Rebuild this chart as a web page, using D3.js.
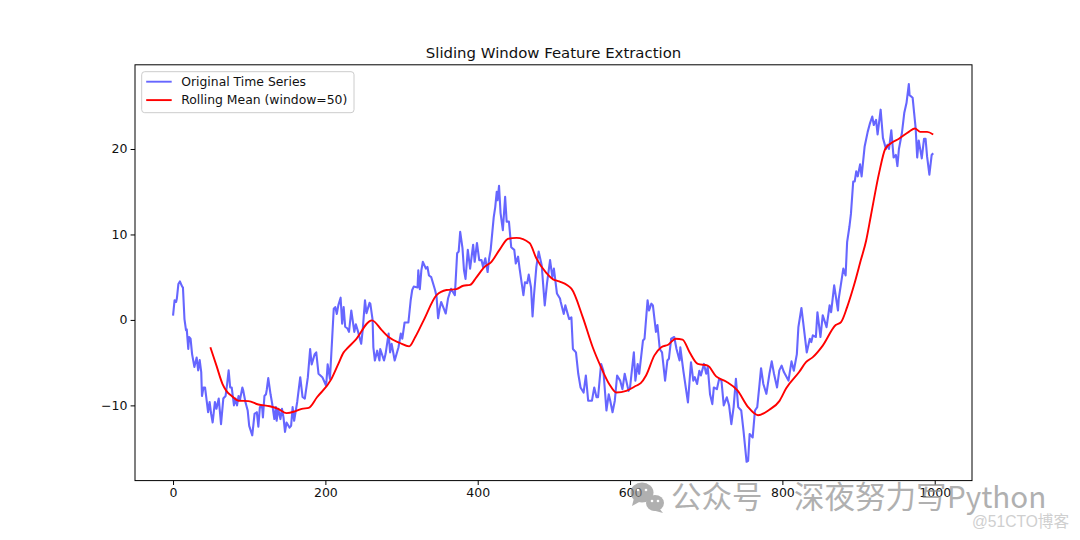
<!DOCTYPE html>
<html>
<head>
<meta charset="utf-8">
<script src="https://d3js.org/d3.v7.min.js"></script>
<style>
  html, body { margin: 0; padding: 0; background: #fff; }
  svg { display: block; }
  text { font-family: "DejaVu Sans", sans-serif; }
</style>
</head>
<body>
<div id="chart"></div>
<script>
// Values
const origX = [0,2,4,5,7,9,12,13,15,17,18,20,21,23,25,28,31,33,35,37,38,40,42,46,48,50,52,55,57,60,63,66,69,71,73,75,77,80,82,84,86,88,91,92,95,98,100,104,107,110,112,114,117,118,120,122,123,125,128,130,133,135,136,138,141,143,145,147,149,153,155,157,159,163,167,170,173,177,180,182,186,188,191,196,201,203,206,209,211,213,215,217,220,222,224,226,229,231,234,238,240,243,247,249,252,254,258,259,262,263,265,268,271,272,277,279,283,285,287,291,296,299,301,304,309,312,314,316,321,322,324,326,328,332,334,336,339,344,346,348,350,352,356,358,361,365,370,373,375,377,380,382,384,387,390,394,396,399,402,405,407,410,413,415,417,421,423,425,426,428,430,433,436,438,441,444,448,450,453,455,460,462,465,467,470,472,474,477,480,484,488,491,495,498,500,504,508,509,513,515,520,523,525,529,532,535,539,542,545,550,553,556,558,562,565,569,572,574,577,580,583,587,590,593,598,600,605,607,610,612,617,619,623,625,628,630,634,636,639,642,646,649,651,654,658,661,665,666,670,676,680,683,685,688,691,693,697,700,702,705,708,710,714,717,720,723,727,730,733,736,739,742,746,749,753,755,757,761,764,767,770,772,775,779,783,786,789,793,796,799,802,808,812,815,819,821,825,827,832,836,838,840,844,846,850,853,858,862,864,868,873,874,880,883,885,888,890,893,895,897,899,902,904,908,912,915,918,920,923,925,929,932,936,938,940,943,946,949,951,953,957,960,963,966,967,971,973,975,977,979,983,986,988,990,993,996,998];
const origY = [0.5,2.3,2.1,2.5,4.2,4.5,3.9,3.8,0.1,-1.2,-1.1,-3.4,-2,-2.2,-4,-5.5,-4.4,-5.9,-4.7,-6.1,-8.9,-7.9,-7.9,-10.8,-9.6,-11,-12,-9.6,-10.4,-9.2,-12.2,-9.2,-8.9,-7.5,-5.9,-7.9,-7.9,-10,-9.2,-10,-8.9,-9.3,-7.9,-8.2,-9.6,-10.6,-12.4,-13.5,-11,-10.8,-12.5,-10.2,-10.2,-11.4,-8.9,-8.7,-8.2,-6.8,-8.7,-9.7,-11.6,-10.2,-11.8,-10.4,-11.6,-10.4,-11.4,-13.1,-12,-12.6,-12.4,-10.2,-11.8,-9.6,-6.7,-9,-9.2,-6.7,-3.4,-5.2,-4,-3.8,-6.3,-6.7,-7.7,-5.2,-6.9,-2,1.3,1.5,0.7,1.7,2.6,-0.45,1.5,-0.8,-1,-1.4,1.1,-1.4,-0.5,-1.4,-2.8,-1.2,2.3,0.8,2,1.9,0,-3.2,-4.75,-3.6,-4.75,-3.4,-4.75,-4,-1.6,-3.8,-2.8,-4.75,-3.2,-1.6,-2.2,-0.3,-0.3,2.3,3.5,3.9,3.8,5.8,3.6,5.8,6.8,6,6.2,5.2,5,3.5,2.7,0.2,1.3,2.1,1.2,0.75,2.5,3.65,2.9,7.8,8,10.3,8.4,5.8,4.8,8.2,6,8.8,6.8,9,7,7,6.2,7.2,5.6,7.2,8.2,12,13.2,15,14,15.7,12.5,10.5,14.4,11.5,11.5,8.5,8.2,6.6,7.4,6,2.9,4.4,4.3,5.3,3.8,0.4,3,6.2,8,6.4,1.7,4.3,7,5,6,3.1,2.5,2.1,0.7,1.7,0.1,0.3,-3.4,-3.8,-6.3,-7.9,-8.5,-6.5,-9.45,-9.45,-7.9,-9.05,-9.05,-5.15,-5.95,-10.6,-8.7,-9.45,-10.8,-9.45,-6.5,-7.1,-8.1,-6.3,-8.3,-7.9,-3.8,-7.1,-5.15,-6.3,-2.4,-2.2,2.3,1.1,1.9,1.7,-1.4,-0.6,-3.4,-3.8,-7.1,-4.75,-4.55,-2.2,-2,-3.4,-4.75,-3.2,-5.95,-9.65,-4.95,-7.1,-6.7,-7.5,-5.95,-6.5,-5.15,-6.3,-5.5,-8.7,-9.85,-7.9,-8.1,-6.9,-7.1,-10,-9.05,-10,-12.2,-10.2,-6.9,-10.2,-10.6,-13,-16.6,-16.5,-13.35,-13.75,-10.6,-10.2,-7.5,-5.65,-7.5,-8.65,-6.3,-4.85,-6.3,-7.9,-5.9,-5.35,-6.1,-7.1,-4.85,-5.95,-4,-0.85,1.4,-0.05,-3.8,-2.2,-2.6,-1.8,-2,0.9,-2,0.55,-0.85,1.7,0.9,4.05,1.1,2.5,6,5.2,9.1,10.9,12.4,16.2,16.2,17.4,16.8,18.2,16.8,20.3,22,23,23.8,22.8,23.4,21.7,24.6,21.3,20,20.5,20,22.2,19,19.3,18,20,21.9,24.2,25.4,27.6,26.3,26,24.2,22.4,19,21,18.9,21.2,21.2,19.1,17,19.3,19.5];
const meanX = [49,57,65,70,77,86,99,112,127,138,149,160,169,178,189,208,217,224,228,239,261,274,283,298,310,318,329,346,359,372,381,390,398,409,418,429,440,451,468,477,490,499,507,523,538,551,562,573,582,595,608,614,621,632,641,650,660,669,678,689,702,713,726,741,755,768,783,796,805,822,831,840,853,870,877,885,894,903,910,916,927,935,943,953,966,974,981,990,998];
const meanY = [-3.2,-5.35,-7.5,-8.3,-8.9,-9.45,-9.5,-9.9,-10.1,-10.4,-10.9,-10.7,-10.4,-10.3,-9.05,-6.9,-5.15,-3.8,-3.4,-2.4,-0.05,-1.2,-2,-2.7,-3.1,-2,-0.05,2.9,3.5,3.6,4,4.1,4.95,6.2,6.8,8.25,9.5,9.6,9,7.2,5.5,4.75,4.5,3.65,0.3,-3.2,-5.55,-7.55,-8.5,-8.3,-7.7,-7.4,-6.5,-4.15,-3.2,-2.9,-2.2,-2.3,-3.75,-5.15,-5.35,-6.6,-7.2,-8.25,-10.2,-11.15,-10.5,-9.5,-8,-6.1,-4.95,-4.35,-3,-0.6,-0.25,1.5,4.05,7,9.3,12.1,17.2,20,20.7,21.2,22,22.4,22,22,21.7];
const xTicks = [0, 200, 400, 600, 800, 1000];
const yTicks = [-10, 0, 10, 20];
const seriesNames = ["Original Time Series", "Rolling Mean (window=50)"];

const width = 1080;
const height = 540;
const margin = { top: 64.8, right: 108, bottom: 59.4, left: 135 };

const svg = d3.select("#chart").append("svg")
  .attr("width", width)
  .attr("height", height);

const x = d3.scaleLinear().domain([-49.95, 1048.95]).range([margin.left, width - margin.right]);
const y = d3.scaleLinear().domain([-18.8, 29.85]).range([height - margin.bottom, margin.top]);

const zip = (a, b) => a.map((d, i) => [d, b[i]]);
const line = d3.line().x(d => x(d[0])).y(d => y(d[1]));

// Lines
svg.append("path")
  .attr("d", line(zip(origX, origY)))
  .attr("fill", "none")
  .attr("stroke", "#0000ff")
  .attr("stroke-opacity", 0.6)
  .attr("stroke-width", 2.1)
  .attr("stroke-linejoin", "round");

// the rolling mean is a smooth curve in the picture
svg.append("path")
  .attr("d", line.curve(d3.curveMonotoneX)(zip(meanX, meanY)))
  .attr("fill", "none")
  .attr("stroke", "#ff0000")
  .attr("stroke-width", 1.9)
  .attr("stroke-linejoin", "round");

// Axes
const xAxis = svg.append("g")
  .attr("transform", `translate(0,${height - margin.bottom})`)
  .call(d3.axisBottom(x).tickValues(xTicks).tickFormat(d3.format("d")).tickSize(4.4).tickPadding(3.2));

const yAxis = svg.append("g")
  .attr("transform", `translate(${margin.left},0)`)
  .call(d3.axisLeft(y).tickValues(yTicks).tickFormat(d => (d < 0 ? "\u2212" + Math.abs(d) : d)).tickSize(4.4).tickPadding(3.2));

[xAxis, yAxis].forEach(a => {
  a.select(".domain").remove();
  a.selectAll("text").attr("font-size", 12.5).attr("fill", "#111").style("font-family", '"DejaVu Sans", sans-serif');
  a.selectAll("line").attr("stroke", "#000").attr("stroke-width", 1);
});

// Frame
svg.append("rect")
  .attr("x", margin.left)
  .attr("y", margin.top)
  .attr("width", width - margin.left - margin.right)
  .attr("height", height - margin.top - margin.bottom)
  .attr("fill", "none")
  .attr("stroke", "#000")
  .attr("stroke-width", 1);

// Title
svg.append("text")
  .attr("x", (margin.left + width - margin.right) / 2)
  .attr("y", 58)
  .attr("text-anchor", "middle")
  .attr("font-size", 14.9)
  .attr("fill", "#111")
  .text("Sliding Window Feature Extraction");

// Legend
const legend = svg.append("g").attr("transform", "translate(141.7,71.7)");
legend.append("rect")
  .attr("width", 212.3)
  .attr("height", 41)
  .attr("rx", 3)
  .attr("fill", "#fff")
  .attr("fill-opacity", 0.8)
  .attr("stroke", "#ccc")
  .attr("stroke-width", 1);

const legendColors = [["#0000ff", 0.6], ["#ff0000", 1]];
seriesNames.forEach((name, i) => {
  const rowY = 10 + i * 18.4;
  legend.append("line")
    .attr("x1", 4.5).attr("x2", 30)
    .attr("y1", rowY).attr("y2", rowY)
    .attr("stroke", legendColors[i][0])
    .attr("stroke-opacity", legendColors[i][1])
    .attr("stroke-width", 1.9);
  legend.append("text")
    .attr("x", 39.5)
    .attr("y", rowY + 4.4)
    .attr("font-size", 12.4)
    .attr("fill", "#111")
    .text(name);
});

// Watermark
const wm = svg.append("g").attr("fill", "#8c8c8c").attr("opacity", 0.68);
wm.append("ellipse").attr("cx", 642).attr("cy", 492.5).attr("rx", 11.5).attr("ry", 10);
wm.append("path").attr("d", "M634 498 L632 506 L641 501 Z");
wm.append("ellipse").attr("cx", 655).attr("cy", 503).attr("rx", 9).attr("ry", 8);
wm.append("path").attr("d", "M659 508 L663 513 L652 510 Z");
const wmText = (str, px, size) => wm.append("text")
  .attr("x", px).attr("y", 508)
  .attr("font-size", size)
  .style("font-family", '"Noto Sans CJK SC", "Noto Sans", sans-serif')
  .text(str);
wmText("公众号", 671, 30.5);
wmText("深夜努力写", 794, 30.5);
wmText("Python", 947, 29.6);

// Eyes of the two chat bubbles
const eyes = [[638, 490], [646, 490], [652, 501], [658, 501]];
svg.selectAll("circle.eye").data(eyes).join("circle")
  .attr("class", "eye")
  .attr("cx", d => d[0])
  .attr("cy", d => d[1])
  .attr("r", 1.3)
  .attr("fill", "#fff");

svg.append("text")
  .attr("x", 972)
  .attr("y", 527)
  .attr("font-size", 15.6)
  .attr("fill", "#cfcfcf")
  .style("font-family", '"Liberation Sans", "Noto Sans CJK SC", sans-serif')
  .text("@51CTO博客");
</script>
</body>
</html>
